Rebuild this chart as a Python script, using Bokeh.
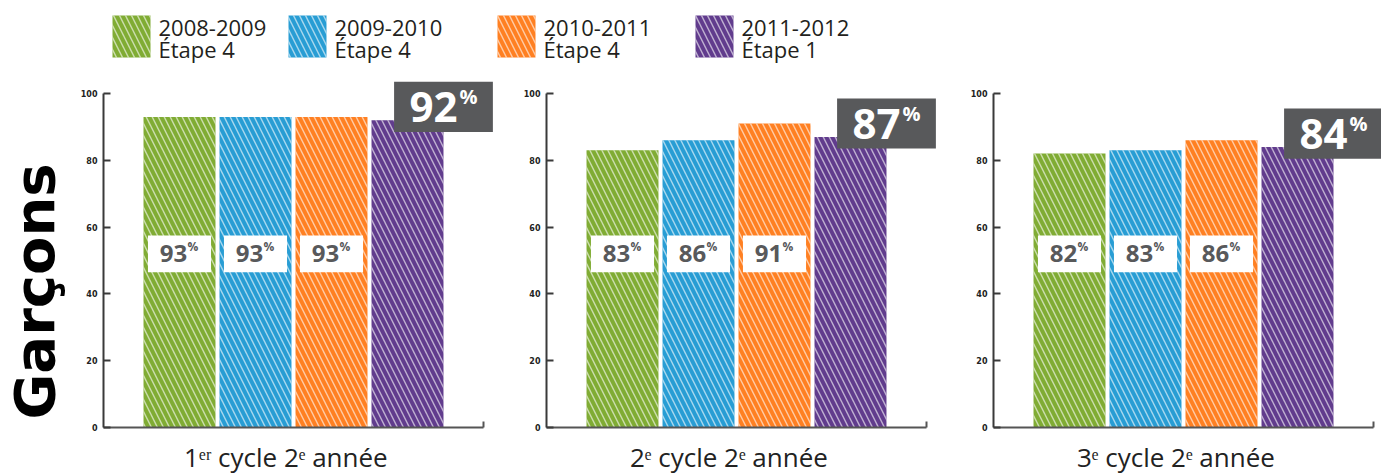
import math
from bokeh.plotting import figure
from bokeh.layouts import column, row
from bokeh.models import Range1d, FixedTicker, ColumnDataSource
from bokeh.core.properties import value
from bokeh.embed import file_html
from bokeh.resources import INLINE

# ---------------- data ----------------
categories = ["1ᵉʳ cycle 2ᵉ année", "2ᵉ cycle 2ᵉ année", "3ᵉ cycle 2ᵉ année"]
years = ["2008-2009", "2009-2010", "2010-2011", "2011-2012"]
stages = ["Étape 4", "Étape 4", "Étape 4", "Étape 1"]
v_2008_2009 = [93, 83, 82]
v_2009_2010 = [93, 86, 83]
v_2010_2011 = [93, 91, 86]
v_2011_2012 = [92, 87, 84]
y_ticks = [0, 20, 40, 60, 80, 100]
row_title = "Garçons"

series = [v_2008_2009, v_2009_2010, v_2010_2011, v_2011_2012]
colors = ["#80AC34", "#289DD4", "#FF8022", "#613C8D"]

# ---------------- layout constants ----------------
UNIT = 76.0          # px per bar slot
PXY = 3.34           # px per percent
FRAME_H = 347
BAR_W = 0.947
GREY = "#58595B"
FONT = "Open Sans"
HATCH = dict(hatch_pattern="\\", hatch_color="white", hatch_alpha=0.6,
             hatch_scale=12, hatch_weight=1.4)

frame_widths = [399, 399, 388]
border_lefts = [28, 44, 48]
LEFT_W = 75
TOTAL_W = LEFT_W + sum(f + b for f, b in zip(frame_widths, border_lefts))
LEG_H = 78
PANEL_TOP, PANEL_BOTTOM = 2, 8
LAB_H = 38
ROW_H = PANEL_TOP + FRAME_H + PANEL_BOTTOM + LAB_H


def make_panel(i):
    fw = frame_widths[i]
    p = figure(frame_width=fw, frame_height=FRAME_H,
               x_range=Range1d(0, fw / UNIT), y_range=Range1d(0, FRAME_H / PXY),
               min_border_left=border_lefts[i], min_border_right=0,
               min_border_top=PANEL_TOP, min_border_bottom=PANEL_BOTTOM,
               toolbar_location=None, output_backend="svg")
    p.outline_line_color = None
    p.grid.visible = False

    # axes
    p.yaxis.ticker = FixedTicker(ticks=y_ticks)
    p.yaxis.bounds = (0, 100)
    p.yaxis.major_tick_in = 7
    p.yaxis.major_tick_out = 0
    p.yaxis.minor_tick_line_color = None
    p.yaxis.major_label_text_font_size = "8px"
    p.yaxis.major_label_text_font = "DejaVu Sans"
    p.yaxis.major_label_text_font_style = "bold"
    p.yaxis.major_label_text_color = "#222222"
    p.yaxis.major_label_standoff = 6
    p.yaxis.axis_line_width = 2
    p.yaxis.axis_line_color = "#3a3a3a"
    p.yaxis.major_tick_line_width = 2
    p.yaxis.major_tick_line_color = "#3a3a3a"

    p.xaxis.ticker = FixedTicker(ticks=[5])
    p.xaxis.bounds = (0, 5)
    p.xaxis.major_tick_in = 6
    p.xaxis.major_tick_out = 0
    p.xaxis.minor_tick_line_color = None
    p.xaxis.major_label_overrides = {5: ""}
    p.xaxis.major_label_text_font_size = "1px"
    p.xaxis.major_label_standoff = 0
    p.xaxis.axis_line_width = 2
    p.xaxis.axis_line_color = "#555555"
    p.xaxis.major_tick_line_width = 2
    p.xaxis.major_tick_line_color = "#555555"

    xs = [j + 1 for j in range(len(series))]
    tops = [s[i] for s in series]
    src = ColumnDataSource(dict(x=xs, top=tops, color=colors))
    p.vbar(x="x", top="top", width=BAR_W, source=src, fill_color="color",
           line_color=None, **HATCH)

    # value labels for the first three series
    lab = ColumnDataSource(dict(x=xs[:3], y=[52] * 3,
                                t=[str(v) for v in tops[:3]], pc=["%"] * 3))
    p.rect(x="x", y="y", width=0.83, height=11, source=lab,
           fill_color="white", line_color=None)
    p.text(x="x", y="y", text="t", source=lab, x_offset=-6,
           text_align="center", text_baseline="middle",
           text_font=value(FONT), text_font_style="bold",
           text_font_size="24px", text_color=GREY)
    p.text(x="x", y="y", text="pc", source=lab, x_offset=8, y_offset=-7,
           text_align="left", text_baseline="middle",
           text_font=value(FONT), text_font_style="bold",
           text_font_size="12px", text_color=GREY)

    # big label for last series
    last = tops[3]
    big = ColumnDataSource(dict(x=[xs[3] + BAR_W / 2], y=[last + 4],
                                t=[str(last)], pc=["%"]))
    p.rect(x="x", y="y", width=1.3, height=15, source=big,
           fill_color=GREY, line_color=None)
    p.text(x="x", y="y", text="t", source=big, x_offset=-10,
           text_align="center", text_baseline="middle",
           text_font=value(FONT), text_font_style="bold",
           text_font_size="42px", text_color="white")
    p.text(x="x", y="y", text="pc", source=big, x_offset=16, y_offset=-10,
           text_align="left", text_baseline="middle",
           text_font=value(FONT), text_font_style="bold",
           text_font_size="20px", text_color="white")

    # category label strip sharing the panel's x scale
    c = figure(frame_width=fw, frame_height=LAB_H, x_range=p.x_range,
               y_range=Range1d(0, LAB_H), x_axis_type=None, y_axis_type=None,
               min_border_left=border_lefts[i], min_border_right=0,
               min_border_top=0, min_border_bottom=0,
               toolbar_location=None, output_backend="svg")
    c.outline_line_color = None
    c.grid.visible = False
    c.text(x=[2.4], y=[17], text=[categories[i]], text_align="center",
           text_baseline="middle", text_font=value(FONT),
           text_font_size="26px", text_color="#222222")
    return column(p, c)


panels = [make_panel(i) for i in range(3)]

# left title
g = figure(width=LEFT_W, height=ROW_H, x_range=Range1d(0, LEFT_W),
           y_range=Range1d(0, ROW_H), x_axis_type=None, y_axis_type=None,
           min_border=0, toolbar_location=None, output_backend="svg")
g.outline_line_color = None
g.grid.visible = False
g.text(x=[34], y=[ROW_H - 213], text=[row_title], angle=math.pi / 2,
       text_align="center", text_baseline="middle",
       text_font=value("DejaVu Sans"), text_font_style="bold",
       text_font_size="56px", text_color="black")

# legend
leg = figure(width=TOTAL_W, height=LEG_H, x_range=Range1d(0, TOTAL_W),
             y_range=Range1d(0, LEG_H), x_axis_type=None, y_axis_type=None,
             min_border=0, toolbar_location=None, output_backend="svg")
leg.outline_line_color = None
leg.grid.visible = False
leg_x = [131, 307, 516, 714]
lsrc = ColumnDataSource(dict(x=leg_x, color=colors, tx=[x + 27 for x in leg_x],
                             y1=years, y2=stages))
leg.rect(x="x", y=42, width=38, height=42, source=lsrc, fill_color="color",
         line_color=None, **HATCH)
leg.text(x="tx", y=51, text="y1", source=lsrc, text_align="left",
         text_baseline="middle", text_font=value(FONT), text_font_size="22px",
         text_color="#231F20")
leg.text(x="tx", y=30, text="y2", source=lsrc, text_align="left",
         text_baseline="middle", text_font=value(FONT), text_font_size="22px",
         text_color="#231F20")

layout = column(leg, row(g, *panels))
open("out.html", "w").write(file_html(layout, INLINE))
